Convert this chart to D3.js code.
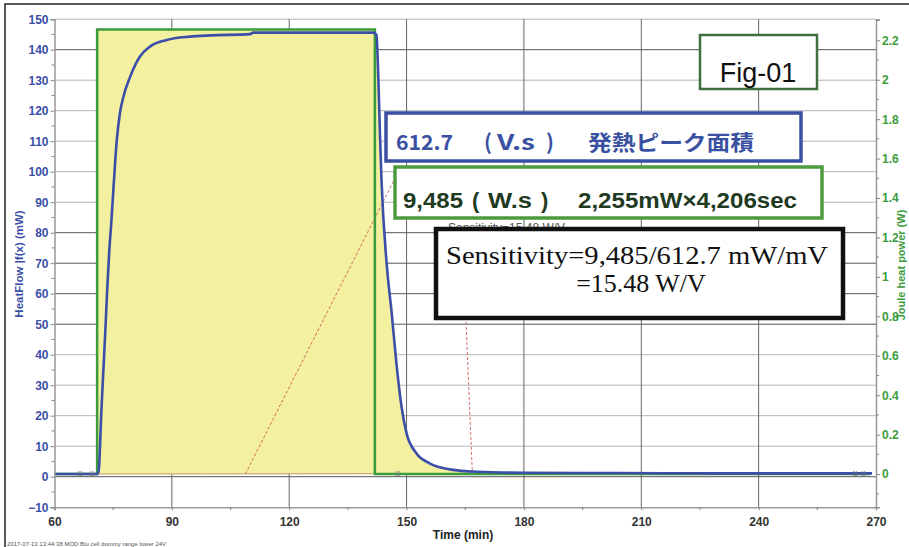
<!DOCTYPE html>
<html>
<head>
<meta charset="utf-8">
<script src="https://cdn.jsdelivr.net/npm/d3@7"></script>
<style>
  body { margin: 0; background: #fff; }
  svg { display: block; }
  text { font-family: Arial, "Liberation Sans", sans-serif; }
</style>
</head>
<body>
<div class="chart"></div>
<script>
// heat flow (left axis, mW) vs time (min)
var hfTime = [60, 64, 68, 71, 71.3, 72, 72.5, 73, 73.5, 74, 74.5, 75, 75.9, 76.7, 77.6, 79.3, 81.8, 84.4, 88.7,
  94.6, 100, 110, 110.8, 141.5, 142.3, 142.8, 143.2, 143.6, 144.9, 146.2, 147.4, 148.7, 150, 152.5, 155.9, 161,
  168, 180, 204, 230, 269];
var hfValue = [0.9, 0.9, 0.9, 0.9, 2, 22, 35, 48, 62, 74, 83, 93, 110, 119, 124.5, 131, 137.7, 141, 143.2,
  144.3, 144.7, 145.1, 145.6, 145.6, 144.8, 130, 112, 97, 70, 53.6, 37.2, 23, 14.2, 7.7, 4.4, 2.4,
  1.6, 1.3, 1.2, 1.1, 1.1];

// joule heat power (right axis, W)
var jTime = [60, 70.9, 70.9, 141.9, 141.9, 268.5];
var jPower = [0, 0, 2.255, 2.255, 0, 0];

// integration range + baseline used for the peak area
var areaStart = 70.9, areaEnd = 166;
var baseStart = 0.9, baseEnd = 1.0;

// red dotted helper lines (left axis units)
var redDiag = [[108.8, 0.9], [147.5, 99]];
var redVert = [[164.5, 72], [166.8, 1.6]];

// baseline markers (time, value)
var markTimes = [66.5, 69.5, 147.7, 264.7, 266.8];
var markValue = 1;

var xTicks = [60, 90, 120, 150, 180, 210, 240, 270];
var leftTicks = d3.range(-10, 151, 10);
var rightTicks = [0, 0.2, 0.4, 0.6, 0.8, 1, 1.2, 1.4, 1.6, 1.8, 2, 2.2];
var darkGrid = [140, 80, 70, 60, 50, 0];

var W = 909, H = 547;
var svg = d3.select('.chart').append('svg')
    .attr('width', W)
    .attr('height', H);

// scales
var x = d3.scaleLinear().domain([60, 270]).range([54.5, 876]);
var yL = d3.scaleLinear().domain([-10, 150]).range([507.2, 19.2]);
var yR = d3.scaleLinear().domain([-0.168, 2.307]).range([507.2, 19.2]);

// outer frame
svg.append('rect')
    .attr('x', 5).attr('y', 4)
    .attr('width', 940).attr('height', 600)
    .attr('fill', 'none')
    .attr('stroke', '#222')
    .attr('stroke-width', 1.5);

// grid
svg.append('g').selectAll('line')
    .data(leftTicks.filter((d) => d > -10))
    .enter().append('line')
    .attr('x1', x(60)).attr('x2', x(270))
    .attr('y1', (d) => yL(d)).attr('y2', (d) => yL(d))
    .attr('stroke', (d) => darkGrid.indexOf(d) >= 0 ? '#555' : '#b4b4b4')
    .attr('stroke-width', 1);

svg.append('g').selectAll('line')
    .data(xTicks.slice(1, -1))
    .enter().append('line')
    .attr('x1', (d) => x(d)).attr('x2', (d) => x(d))
    .attr('y1', yL(150)).attr('y2', yL(-10))
    .attr('stroke', '#666')
    .attr('stroke-width', 1);

// helpers
function hfAt(t){
    var i = d3.bisectRight(hfTime, t);
    if(i <= 0) return hfValue[0];
    if(i >= hfTime.length) return hfValue[hfValue.length - 1];
    var t0 = hfTime[i - 1], t1 = hfTime[i];
    var k = (t - t0) / (t1 - t0);
    return hfValue[i - 1] + k * (hfValue[i] - hfValue[i - 1]);
}
function baseAt(t){
    return baseStart + (t - areaStart) / (areaEnd - areaStart) * (baseEnd - baseStart);
}

// yellow peak area: union of power rectangle and heat-flow peak
var fillTimes = [areaStart].concat(hfTime.filter((t) => t > areaStart && t < areaEnd), [jTime[3], areaEnd])
    .sort((a, b) => a - b);
var fillPts = fillTimes.map((t) => {
    var top = yL(hfAt(t));
    if(t >= jTime[2] && t <= jTime[3]){
        top = Math.min(top, yR(jPower[2]));
    }
    return { t: t, top: top, bot: yL(baseAt(t)) };
});
svg.append('path')
    .datum(fillPts)
    .attr('fill', '#f3f0a0')
    .attr('d', d3.area()
        .curve(d3.curveMonotoneX)
        .x((d) => x(d.t))
        .y0((d) => d.bot)
        .y1((d) => d.top));

// baseline of integration
svg.append('line')
    .attr('x1', x(areaStart)).attr('x2', x(areaEnd))
    .attr('y1', yL(baseStart)).attr('y2', yL(baseEnd))
    .attr('stroke', '#c09a5a')
    .attr('stroke-width', 1);

// red dotted lines
[redDiag, redVert].forEach((pts) => {
    svg.append('path')
        .datum(pts)
        .attr('fill', 'none')
        .attr('stroke', '#d05a5a')
        .attr('stroke-width', 0.9)
        .attr('stroke-dasharray', '3,2')
        .attr('d', d3.line().x((d) => x(d[0])).y((d) => yL(d[1])));
});

// joule power (green)
svg.append('path')
    .datum(d3.zip(jTime, jPower))
    .attr('fill', 'none')
    .attr('stroke', '#3c9c3c')
    .attr('stroke-width', 2.5)
    .attr('d', d3.line().x((d) => x(d[0])).y((d) => yR(d[1])));

// heat flow (blue)
svg.append('path')
    .datum(d3.zip(hfTime, hfValue))
    .attr('fill', 'none')
    .attr('stroke', '#3b4fa8')
    .attr('stroke-width', 2.6)
    .attr('stroke-linejoin', 'round')
    .attr('d', d3.line().curve(d3.curveMonotoneX).x((d) => x(d[0])).y((d) => yL(d[1])));

// baseline markers
svg.append('g').selectAll('path')
    .data(markTimes)
    .enter().append('path')
    .attr('d', d3.symbol(d3.symbolCross, 14))
    .attr('transform', (d) => `translate(${x(d)}, ${yL(markValue)}) rotate(45)`)
    .attr('fill', 'none')
    .attr('stroke', '#777')
    .attr('stroke-width', 0.7);

// axes
var axL = svg.append('g')
    .attr('transform', `translate(${x(60)}, 0)`)
    .call(d3.axisLeft(yL).tickValues(leftTicks).tickSize(4).tickPadding(2));
axL.selectAll('text')
    .attr('fill', '#3b4fa8')
    .style('font-size', '12px')
    .style('font-weight', 'bold');
axL.append('g').selectAll('line')
    .data(d3.range(-5, 150, 10))
    .enter().append('line')
    .attr('x1', 0).attr('x2', -3)
    .attr('y1', (d) => yL(d)).attr('y2', (d) => yL(d))
    .attr('stroke', '#888');

var axR = svg.append('g')
    .attr('transform', `translate(${x(270)}, 0)`)
    .call(d3.axisRight(yR).tickValues(rightTicks).tickSize(4).tickPadding(2)
        .tickFormat((d) => d3.format('~g')(d)));
axR.selectAll('text')
    .attr('fill', '#3c9c3c')
    .style('font-size', '12px')
    .style('font-weight', 'bold');
axR.append('g').selectAll('line')
    .data(d3.range(-0.1, 2.31, 0.2))
    .enter().append('line')
    .attr('x1', 0).attr('x2', 3)
    .attr('y1', (d) => yR(d)).attr('y2', (d) => yR(d))
    .attr('stroke', '#888');

var axB = svg.append('g')
    .attr('transform', `translate(0, ${yL(-10)})`)
    .call(d3.axisBottom(x).tickValues(xTicks).tickSize(3).tickPadding(7));
axB.selectAll('text')
    .attr('fill', '#333')
    .style('font-size', '12px')
    .style('font-weight', 'bold');
axB.append('g').selectAll('line')
    .data(d3.range(75, 270, 30))
    .enter().append('line')
    .attr('x1', (d) => x(d)).attr('x2', (d) => x(d))
    .attr('y1', 0).attr('y2', 3)
    .attr('stroke', '#888');

svg.selectAll('.domain').attr('stroke', '#999').attr('stroke-width', 1.5);
svg.selectAll('.tick line').attr('stroke', '#888');

// axis titles
svg.append('text')
    .attr('transform', 'translate(23, 264) rotate(-90)')
    .attr('text-anchor', 'middle')
    .attr('fill', '#3b4fa8')
    .style('font-size', '11.5px')
    .style('font-weight', 'bold')
    .text('HeatFlow |f(x) (mW)');

svg.append('text')
    .attr('transform', 'translate(905, 265) rotate(-90)')
    .attr('text-anchor', 'middle')
    .attr('fill', '#3c9c3c')
    .style('font-size', '11px')
    .style('font-weight', 'bold')
    .text('Joule heat power (W)');

svg.append('text')
    .attr('x', 463).attr('y', 539)
    .attr('text-anchor', 'middle')
    .attr('fill', '#222')
    .style('font-size', '12px')
    .style('font-weight', 'bold')
    .text('Time (min)');

svg.append('text')
    .attr('x', 7).attr('y', 546)
    .attr('fill', '#555')
    .style('font-size', '6px')
    .text('2017-07-13 13:44:38 MOD Blu cell dummy range lower 24V');

// text hidden behind the boxes
svg.append('text')
    .attr('x', 448).attr('y', 232)
    .attr('fill', '#555')
    .style('font-size', '12px')
    .text('Sensitivity=15.48 W/V');

// annotation boxes
function box(x0, y0, x1, y1, color, sw){
    svg.append('rect')
        .attr('x', x0).attr('y', y0)
        .attr('width', x1 - x0).attr('height', y1 - y0)
        .attr('fill', '#fff')
        .attr('stroke', color)
        .attr('stroke-width', sw);
}
// text pieces placed at given x with a fitted width
function pieces(y, parts, color, size, family){
    var t = svg.append('text')
        .attr('y', y)
        .attr('fill', color)
        .style('font-size', size + 'px')
        .style('font-weight', 'bold');
    if(family) t.style('font-family', family);
    parts.forEach((p) => {
        var s = t.append('tspan').attr('x', p[1]).text(p[0]);
        if(p[2]) s.attr('textLength', p[2]).attr('lengthAdjust', 'spacingAndGlyphs');
    });
}

box(700, 35, 817, 89, '#3f6e3f', 2.5);
svg.append('text')
    .attr('x', 758).attr('y', 82)
    .attr('text-anchor', 'middle')
    .attr('fill', '#111')
    .style('font-size', '27px')
    .text('Fig-01');

box(386, 113, 801, 161, '#3a50a0', 3.5);
pieces(150, [['612.7', 396, 57], ['(', 484], ['V.s', 497, 38], [')', 546], ['発熱ピーク面積', 588, 166]],
    '#3a50a0', 21, '"Noto Sans CJK JP", Arial, sans-serif');

box(395, 167, 822, 218, '#4d9a3f', 3.5);
pieces(208, [['9,485', 403, 60], ['(', 472], ['W.s', 488, 44], [')', 541], ['2,255mW×4,206sec', 578, 219]],
    '#1f3a1f', 22);

box(436, 229, 843, 318, '#111', 4.5);
svg.append('text')
    .attr('x', 446).attr('y', 264)
    .attr('textLength', 382)
    .attr('lengthAdjust', 'spacingAndGlyphs')
    .attr('fill', '#111')
    .style('font-family', '"Liberation Serif", "Times New Roman", serif')
    .style('font-size', '26px')
    .text('Sensitivity=9,485/612.7  mW/mV');
svg.append('text')
    .attr('x', 641).attr('y', 292)
    .attr('text-anchor', 'middle')
    .attr('fill', '#111')
    .style('font-family', '"Liberation Serif", "Times New Roman", serif')
    .style('font-size', '26px')
    .text('=15.48 W/V');
</script>
</body>
</html>
